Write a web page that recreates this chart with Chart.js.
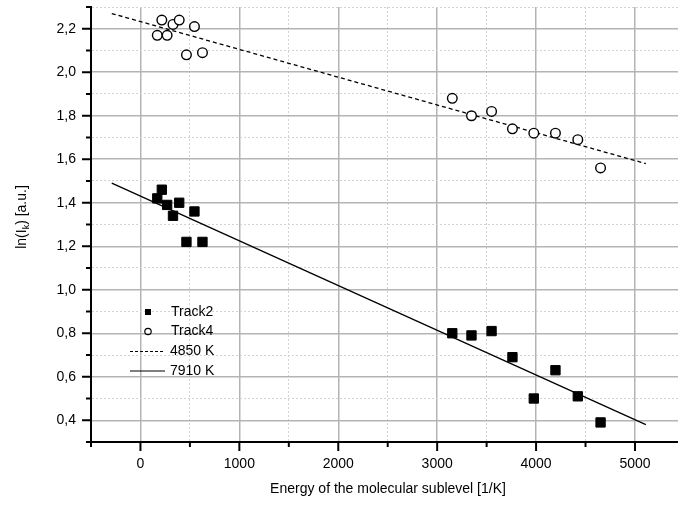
<!DOCTYPE html>
<html>
<head>
<meta charset="utf-8">
<script src="https://cdn.jsdelivr.net/npm/chart.js@4.4.0/dist/chart.umd.min.js"></script>
<style>
    html, body { margin: 0; padding: 0; background: #fff; }
    #wrap { width: 678px; height: 505px; }
</style>
</head>
<body>
<div id="wrap"><canvas id="chart" width="678" height="505"></canvas></div>
<script>
// Dados
const energies = [170, 216, 270, 329, 392, 465, 546, 627, 3153, 3347, 3550, 3761, 3977, 4196, 4422, 4652];
const track2 = [1.42, 1.46, 1.39, 1.34, 1.40, 1.22, 1.36, 1.22, 0.80, 0.79, 0.81, 0.69, 0.50, 0.63, 0.51, 0.39];
const track4 = [2.17, 2.24, 2.17, 2.22, 2.24, 2.08, 2.21, 2.09, 1.88, 1.80, 1.82, 1.74, 1.72, 1.72, 1.69, 1.56];
const fitX = [-290, 5110];
const fit4850 = [2.27, 1.58];
const fit7910 = [1.49, 0.38];
const xTicks = [-500, 0, 500, 1000, 1500, 2000, 2500, 3000, 3500, 4000, 4500, 5000];
const yTicks = [0.3, 0.4, 0.5, 0.6, 0.7, 0.8, 0.9, 1.0, 1.1, 1.2, 1.3, 1.4, 1.5, 1.6, 1.7, 1.8, 1.9, 2.0, 2.1, 2.2, 2.3];

const FONT = '"Liberation Sans", Arial, sans-serif';
const isMajorX = v => v % 1000 === 0;
const isMajorY = v => Math.round(v * 10) % 2 === 0;

const pts = ys => energies.map((x, i) => ({ x: x, y: ys[i] }));
const line = ys => fitX.map((x, i) => ({ x: x, y: ys[i] }));

// sem padding extra dos rótulos: área do gráfico fixa
const noPad = s => { s.paddingTop = 0; s.paddingBottom = 0; s.paddingLeft = 0; s.paddingRight = 0; };

// Marcas dos eixos (maiores e menores)
const tickMarks = {
    id: 'tickMarks',
    afterDraw(chart) {
        const { ctx, chartArea, scales } = chart;
        ctx.save();
        ctx.strokeStyle = '#000';
        ctx.lineWidth = 2;
        xTicks.forEach(v => {
            const px = scales.x.getPixelForValue(v);
            const len = isMajorX(v) ? 9 : 5;
            ctx.beginPath();
            ctx.moveTo(px, chartArea.bottom);
            ctx.lineTo(px, chartArea.bottom + len);
            ctx.stroke();
        });
        yTicks.forEach(v => {
            const py = scales.y.getPixelForValue(v);
            const len = isMajorY(v) ? 9 : 5;
            ctx.beginPath();
            ctx.moveTo(chartArea.left, py);
            ctx.lineTo(chartArea.left - len, py);
            ctx.stroke();
        });
        ctx.restore();
    }
};

// Títulos dos eixos
const axisTitles = {
    id: 'axisTitles',
    afterDraw(chart) {
        const { ctx } = chart;
        ctx.save();
        ctx.fillStyle = '#000';
        ctx.font = '14px ' + FONT;
        ctx.textAlign = 'center';
        ctx.textBaseline = 'middle';
        ctx.fillText('Energy of the molecular sublevel [1/K]', 388, 489);

        ctx.translate(22, 217);
        ctx.rotate(-Math.PI / 2);
        ctx.textAlign = 'left';
        ctx.textBaseline = 'middle';
        const a = 'ln(I', k = 'k', b = ') [a.u.]';
        ctx.font = '14px ' + FONT;
        const wa = ctx.measureText(a).width, wb = ctx.measureText(b).width;
        ctx.font = '9px ' + FONT;
        const wk = ctx.measureText(k).width;
        let x0 = -(wa + wk + wb) / 2;
        ctx.font = '14px ' + FONT;
        ctx.fillText(a, x0, 0);
        ctx.font = '9px ' + FONT;
        ctx.fillText(k, x0 + wa, 5);
        ctx.font = '14px ' + FONT;
        ctx.fillText(b, x0 + wa + wk, 0);
        ctx.restore();
    }
};

// Legenda dentro da área do gráfico
const insideLegend = {
    id: 'insideLegend',
    afterDraw(chart) {
        const { ctx } = chart;
        const tx = 171, mx = 148;
        const rows = [312, 331.5, 351.5, 371];
        ctx.save();
        ctx.fillStyle = '#000';
        ctx.strokeStyle = '#000';
        ctx.font = '14px ' + FONT;
        ctx.textBaseline = 'middle';
        ctx.textAlign = 'left';

        ctx.fillRect(mx - 3, rows[0] - 3, 6, 6);
        ctx.fillText('Track2', tx, rows[0]);

        ctx.lineWidth = 1.2;
        ctx.beginPath();
        ctx.arc(mx, rows[1], 3.2, 0, Math.PI * 2);
        ctx.stroke();
        ctx.fillText('Track4', tx, rows[1]);

        ctx.lineWidth = 1.2;
        ctx.setLineDash([3, 2]);
        ctx.beginPath();
        ctx.moveTo(130, rows[2]);
        ctx.lineTo(165, rows[2]);
        ctx.stroke();
        ctx.setLineDash([]);
        ctx.fillText('4850 K', tx - 1, rows[2]);

        ctx.beginPath();
        ctx.moveTo(130, rows[3]);
        ctx.lineTo(165, rows[3]);
        ctx.stroke();
        ctx.fillText('7910 K', tx - 1, rows[3]);
        ctx.restore();
    }
};

const ctx = document.getElementById('chart').getContext('2d');
new Chart(ctx, {
    type: 'scatter',
    data: {
        datasets: [
            {
                label: 'Track2',
                data: pts(track2),
                pointStyle: 'rect',
                pointRadius: 6.6,
                pointBackgroundColor: '#000',
                pointBorderColor: '#000',
                pointBorderWidth: 1,
                order: 1
            },
            {
                label: 'Track4',
                data: pts(track4),
                pointStyle: 'circle',
                pointRadius: 4.8,
                pointBackgroundColor: '#fff',
                pointBorderColor: '#000',
                pointBorderWidth: 1.4,
                order: 1
            },
            {
                label: '4850 K',
                type: 'line',
                data: line(fit4850),
                borderColor: '#000',
                borderWidth: 1.3,
                borderDash: [4, 3],
                pointRadius: 0,
                fill: false,
                order: 2
            },
            {
                label: '7910 K',
                type: 'line',
                data: line(fit7910),
                borderColor: '#000',
                borderWidth: 1.3,
                pointRadius: 0,
                fill: false,
                order: 2
            }
        ]
    },
    options: {
        responsive: false,
        animation: false,
        devicePixelRatio: 1,
        layout: { autoPadding: false, padding: { top: 7, right: 0, left: 0, bottom: 0 } },
        plugins: {
            legend: { display: false },
            tooltip: { enabled: false }
        },
        scales: {
            x: {
                type: 'linear',
                min: -500,
                max: 5435,
                afterBuildTicks: s => { s.ticks = xTicks.map(v => ({ value: v })); },
                afterFit: s => { s.height = 63; noPad(s); },
                grid: {
                    drawTicks: false,
                    color: c => isMajorX(c.tick.value) ? '#b4b4b4' : '#d2d2d2',
                    lineWidth: c => isMajorX(c.tick.value) ? 1.5 : 1
                },
                border: {
                    color: '#000',
                    width: 2,
                    dash: c => (c.tick && !isMajorX(c.tick.value)) ? [2, 2] : []
                },
                ticks: {
                    autoSkip: false,
                    maxRotation: 0,
                    padding: 14,
                    color: '#000',
                    font: { family: FONT, size: 14 },
                    callback: v => (isMajorX(v) && v >= 0) ? String(v) : ''
                }
            },
            y: {
                type: 'linear',
                min: 0.3,
                max: 2.3,
                afterBuildTicks: s => { s.ticks = yTicks.map(v => ({ value: v })); },
                afterFit: s => { s.width = 91; noPad(s); },
                grid: {
                    drawTicks: false,
                    color: c => isMajorY(c.tick.value) ? '#b4b4b4' : '#d2d2d2',
                    lineWidth: c => isMajorY(c.tick.value) ? 1.5 : 1
                },
                border: {
                    color: '#000',
                    width: 2,
                    dash: c => (c.tick && !isMajorY(c.tick.value)) ? [2, 2] : []
                },
                ticks: {
                    autoSkip: false,
                    padding: 15,
                    color: '#000',
                    font: { family: FONT, size: 14 },
                    callback: v => isMajorY(v) ? v.toFixed(1).replace('.', ',') : ''
                }
            }
        }
    },
    plugins: [tickMarks, axisTitles, insideLegend]
});
</script>
</body>
</html>
